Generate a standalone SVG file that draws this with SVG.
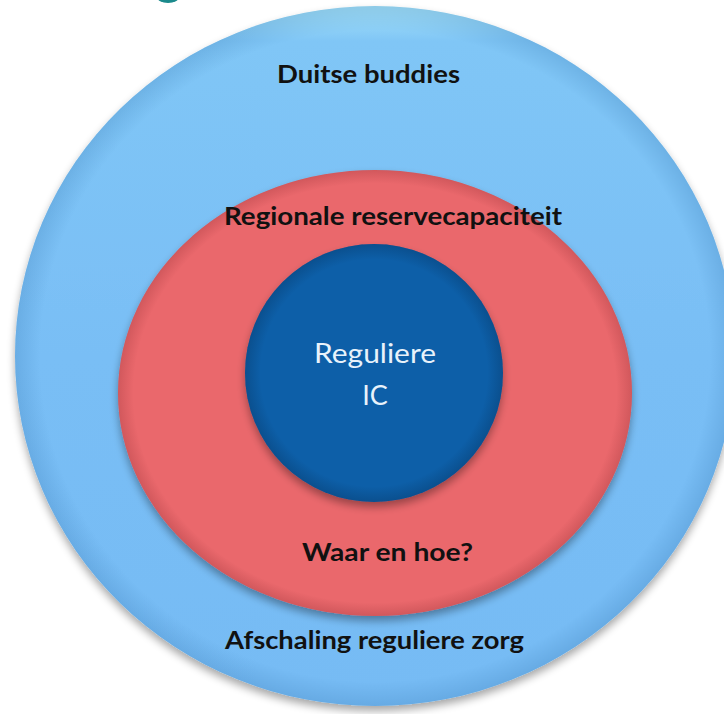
<svg xmlns="http://www.w3.org/2000/svg" width="724" height="714" viewBox="0 0 724 714">
  <defs>
    <style>
      .lbl { font-family: Lato, "Open Sans", "Liberation Sans", sans-serif; text-anchor: middle; }
      .dark { fill: #111111; font-weight: bold; font-size: 25.5px; }
      .light { fill: #e8f2fb; font-weight: normal; font-size: 27px; }
    </style>
    <linearGradient id="gOuter" x1="0" y1="0" x2="0" y2="1">
      <stop offset="0" stop-color="#a6e2f8"/>
      <stop offset="0.05" stop-color="#80c6f6"/>
      <stop offset="0.5" stop-color="#79bef5"/>
      <stop offset="1" stop-color="#76bbf4"/>
    </linearGradient>
    <radialGradient id="gEdge" cx="0.5" cy="0.5" r="0.5">
      <stop offset="0.93" stop-color="#1f5f9a" stop-opacity="0"/>
      <stop offset="1" stop-color="#1f5f9a" stop-opacity="0.18"/>
    </radialGradient>
    <radialGradient id="gRedEdge" cx="0.5" cy="0.5" r="0.5">
      <stop offset="0.94" stop-color="#7a1f24" stop-opacity="0"/>
      <stop offset="1" stop-color="#7a1f24" stop-opacity="0.22"/>
    </radialGradient>
    <radialGradient id="gBlueEdge" cx="0.5" cy="0.5" r="0.5">
      <stop offset="0.88" stop-color="#06335f" stop-opacity="0"/>
      <stop offset="1" stop-color="#06335f" stop-opacity="0.35"/>
    </radialGradient>
    <filter id="shadow" x="-10%" y="-10%" width="120%" height="125%">
      <feGaussianBlur in="SourceAlpha" stdDeviation="4"/>
      <feOffset dx="0" dy="5" result="b"/>
      <feComponentTransfer><feFuncA type="linear" slope="0.35"/></feComponentTransfer>
      <feMerge><feMergeNode/><feMergeNode in="SourceGraphic"/></feMerge>
    </filter>
  </defs>
  <rect width="724" height="714" fill="#ffffff"/>
  <ellipse cx="168" cy="-3" rx="11" ry="6" fill="#1b8a8c"/>

  <g id="node-outer">
    <ellipse cx="375" cy="356" rx="360" ry="350" fill="url(#gOuter)" filter="url(#shadow)"/>
    <ellipse cx="375" cy="356" rx="360" ry="350" fill="url(#gEdge)"/>
    <text class="lbl dark" x="368.5" y="83" textLength="183" lengthAdjust="spacingAndGlyphs">Duitse buddies</text>
    <text class="lbl dark" x="374.5" y="649" textLength="299" lengthAdjust="spacingAndGlyphs">Afschaling reguliere zorg</text>
  </g>

  <g id="node-middle">
    <ellipse cx="375" cy="393" rx="257" ry="223" fill="#ea686c" filter="url(#shadow)"/>
    <ellipse cx="375" cy="393" rx="257" ry="223" fill="url(#gRedEdge)"/>
    <text class="lbl dark" x="393" y="225" textLength="338" lengthAdjust="spacingAndGlyphs">Regionale reservecapaciteit</text>
    <text class="lbl dark" x="387.5" y="561" textLength="171" lengthAdjust="spacingAndGlyphs">Waar en hoe?</text>
  </g>

  <g id="node-inner">
    <circle cx="374" cy="373" r="129" fill="#0c5ea8" filter="url(#shadow)"/>
    <circle cx="374" cy="373" r="129" fill="url(#gBlueEdge)"/>
    <text class="lbl light" x="375" y="363" textLength="122" lengthAdjust="spacingAndGlyphs">Reguliere</text>
    <text class="lbl light" x="375" y="405">IC</text>
  </g>

  <g id="connectors"/>
</svg>
